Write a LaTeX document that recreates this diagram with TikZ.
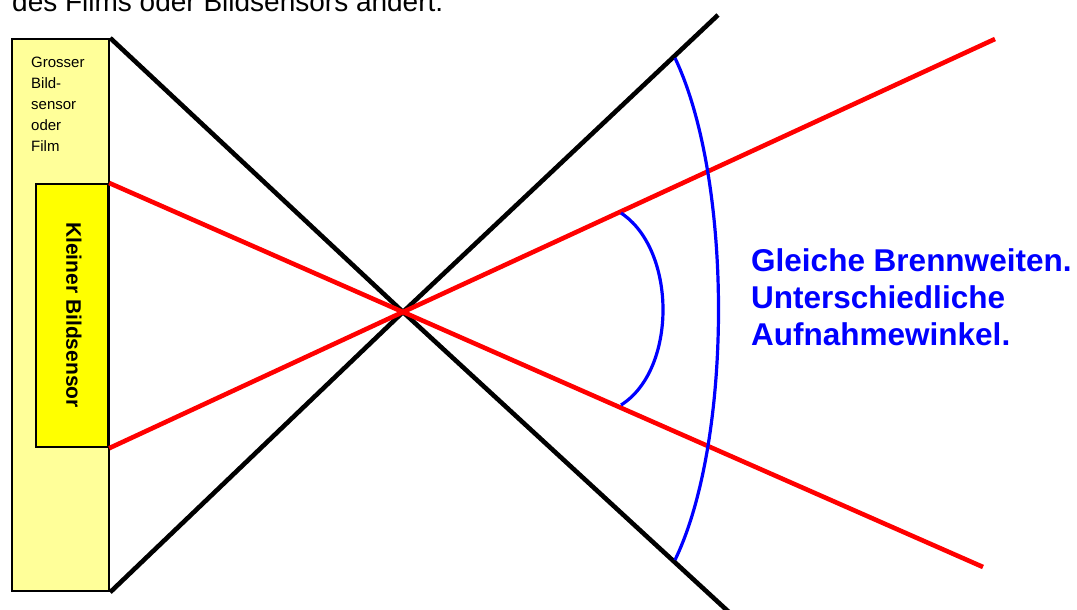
\documentclass[tikz,border=0pt]{standalone}
\usepackage{fontspec}
\setmainfont{Liberation Sans}
\definecolor{lightyel}{HTML}{FFFF99}
\definecolor{yel}{HTML}{FFFF00}
\definecolor{myred}{HTML}{FF0000}
\definecolor{myblue}{HTML}{0000FF}
\begin{document}
\begin{tikzpicture}[x=1pt,y=-1pt,
  boxstyle/.style={draw=black,line width=2.2pt,inner sep=0pt,anchor=north west},
  blackray/.style={line width=4.6pt,black},
  redray/.style={line width=4.6pt,myred},
  bluearc/.style={line width=3.2pt,myblue},
  smalltxt/.style={font=\fontsize{15}{21}\selectfont,align=left,anchor=north west,inner sep=0pt}]
\useasboundingbox (0,0) rectangle (1077,610);
\clip (0,0) rectangle (1077,610);
% cut-off heading
\node[anchor=base west,inner sep=0pt,font=\fontsize{28}{32}\selectfont] (head) at (12,12) {des Films oder Bildsensors ändert.};
% boxes
\node[boxstyle,fill=lightyel,minimum width=97pt,minimum height=552pt] (big) at (11,38) {};
\node[boxstyle,fill=yel,minimum width=72pt,minimum height=263pt] (small) at (35,183) {};
\node[smalltxt] (lbl) at (31,57) {Grosser\\Bild-\\sensor\\oder\\Film};
\node[rotate=-90,font=\bfseries\fontsize{21}{24}\selectfont,inner sep=0pt] (klein) at (74,315) {Kleiner Bildsensor};
% points
\coordinate (X) at (403,312);
\coordinate (b1) at (731,614);
\coordinate (b2) at (718,15);
\coordinate (r1) at (983,567);
\coordinate (r2) at (995,39);
% rays
\draw[blackray] (big.north east) -- (X) -- (b1);
\draw[blackray] (big.south east) -- (X) -- (b2);
\draw[redray] (small.north east) -- (X) -- (r1);
\draw[redray] (small.south east) -- (X) -- (r2);
% arcs
\coordinate (s1) at (621,213);
\coordinate (s2) at (621,405);
\coordinate (l1) at (675,58);
\coordinate (l2) at (675,560);
\draw[bluearc] (s1) .. controls (677,250) and (677,370) .. (s2);
\draw[bluearc] (l1) .. controls (733,180) and (733,440) .. (l2);
% text
\node[anchor=north west,align=left,inner sep=0pt,text=myblue,font=\bfseries\fontsize{31.5}{37}\selectfont] (txt) at (751,248) {Gleiche Brennweiten.\\Unterschiedliche\\Aufnahmewinkel.};
\end{tikzpicture}
\end{document}
